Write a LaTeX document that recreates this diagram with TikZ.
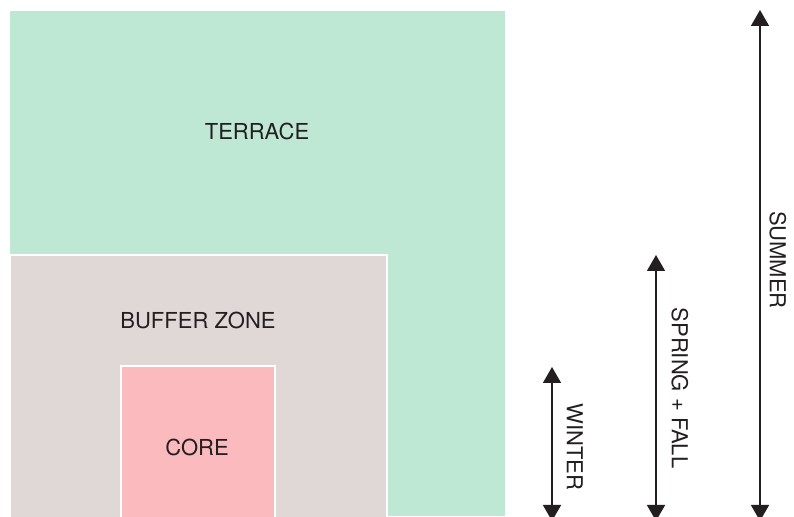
\documentclass[tikz,border=0pt]{standalone}
\usepackage{fontspec}
\setmainfont{TeX Gyre Heros}
\usetikzlibrary{arrows.meta,positioning}
\definecolor{terracegreen}{RGB}{190,232,212}
\definecolor{buffergray}{RGB}{224,216,214}
\definecolor{corepink}{RGB}{251,186,189}
\definecolor{inkgray}{RGB}{35,31,32}
\tikzset{>={Triangle[width=18pt,length=16pt]}}

\begin{document}
\begin{tikzpicture}[x=1pt,y=1pt,
    zone/.style={draw=white,line width=2pt},
    lbl/.style={text=inkgray,font=\fontsize{22}{26}\selectfont,inner sep=0pt},
    season/.style={<->,draw=inkgray,line width=1.5pt}]
  \useasboundingbox (0,0) rectangle (794,516);

  % zones
  \fill[terracegreen] (10,0) rectangle (505,505);
  \filldraw[zone,fill=buffergray] (10,-5) rectangle (387,261);
  \filldraw[zone,fill=corepink] (121,-5) rectangle (275,150);

  \node[lbl] (terrace) at (257,385) {TERRACE};
  \node[lbl] (buffer) at (198,196) {BUFFER ZONE};
  \node[lbl] (core) at (197,69) {CORE};

  % seasons
  \coordinate (w0) at (552,-5);
  \coordinate (w1) at (552,149);
  \coordinate (s0) at (656,-5);
  \coordinate (s1) at (656,261);
  \coordinate (u0) at (760,-5);
  \coordinate (u1) at (760,506);

  \draw[season] (w0) -- (w1);
  \draw[season] (s0) -- (s1);
  \draw[season] (u0) -- (u1);

  \node[lbl,rotate=-90] (winter) at (575,69) {WINTER};
  \node[lbl,rotate=-90] (spring) at (680,128) {SPRING + FALL};
  \node[lbl,rotate=-90] (summer) at (778,256) {SUMMER};
\end{tikzpicture}
\end{document}
